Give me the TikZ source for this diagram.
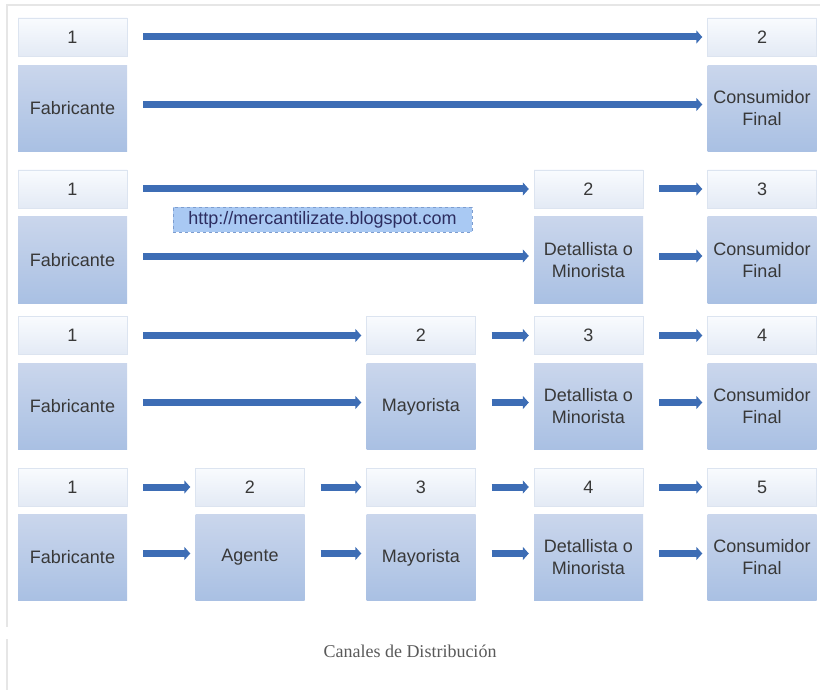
\documentclass[tikz,border=0pt]{standalone}
\usepackage{fontspec}
\setmainfont{Liberation Sans}
\newfontfamily\piefont{Liberation Serif}
\usetikzlibrary{arrows.meta}

\definecolor{azulflecha}{HTML}{3D6DB5}
\definecolor{cajaarriba}{HTML}{CAD6EC}
\definecolor{cajaabajo}{HTML}{A9C0E3}
\definecolor{numarriba}{HTML}{F9FBFE}
\definecolor{numabajo}{HTML}{E3EAF5}
\definecolor{numborde}{HTML}{DCE4F0}
\definecolor{urlfondo}{HTML}{A9C9F3}
\definecolor{urlborde}{HTML}{7D9DCF}
\definecolor{texto}{HTML}{383838}
\definecolor{marco}{HTML}{E6E6E6}

\begin{document}
\begin{tikzpicture}[x=1pt, y=-1pt,
  numero/.style={draw=numborde, top color=numarriba, bottom color=numabajo, minimum width=109pt, minimum height=38pt, inner sep=0pt, text=texto, font=\fontsize{18}{20}\selectfont},
  actor/.style={top color=cajaarriba, bottom color=cajaabajo, minimum width=109pt, minimum height=86pt, inner sep=0pt, align=center, text=texto, font=\fontsize{18}{22}\selectfont},
  flecha/.style={-{Triangle[length=6pt,width=13pt]}, line width=7pt, draw=azulflecha, shorten <=16pt, shorten >=5pt}]
\useasboundingbox (0,0) rectangle (820,690);
\draw[marco, line width=2pt] (7,627) -- (7,5) -- (820,5);
\draw[marco, line width=2pt] (7,639) -- (7,690);
% canal 1
\node[numero] (n11) at (72.5,37) {1};
\node[numero] (n12) at (762,37) {2};
\node[actor] (fab1) at (72.5,108.5) {Fabricante};
\node[actor] (con1) at (762,108.5) {Consumidor\\Final};
\draw[flecha] (n11) -- (n12);
\draw[flecha] ([yshift=4pt]fab1.east) -- ([yshift=4pt]con1.west);
% canal 2
\node[numero] (n21) at (72.5,189) {1};
\node[numero] (n22) at (588.5,189) {2};
\node[numero] (n23) at (762,189) {3};
\node[actor] (fab2) at (72.5,260) {Fabricante};
\node[actor] (det2) at (588.5,260) {Detallista o\\Minorista};
\node[actor] (con2) at (762,260) {Consumidor\\Final};
\node[draw=urlborde, dashed, fill=urlfondo, minimum width=299pt, minimum height=25pt, inner sep=0pt, text=texto!80!blue, font=\fontsize{18}{20}\selectfont] (url) at (322.5,219.5) {http://mercantilizate.blogspot.com};
\draw[flecha] (n21) -- (n22);
\draw[flecha] (n22) -- (n23);
\draw[flecha] ([yshift=4pt]fab2.east) -- ([yshift=4pt]det2.west);
\draw[flecha] ([yshift=4pt]det2.east) -- ([yshift=4pt]con2.west);
% canal 3
\node[numero] (n31) at (72.5,335.5) {1};
\node[numero] (n32) at (421,335.5) {2};
\node[numero] (n33) at (588.5,335.5) {3};
\node[numero] (n34) at (762,335.5) {4};
\node[actor] (fab3) at (72.5,406.5) {Fabricante};
\node[actor] (may3) at (421,406.5) {Mayorista};
\node[actor] (det3) at (588.5,406.5) {Detallista o\\Minorista};
\node[actor] (con3) at (762,406.5) {Consumidor\\Final};
\draw[flecha] (n31) -- (n32);
\draw[flecha] (n32) -- (n33);
\draw[flecha] (n33) -- (n34);
\draw[flecha] ([yshift=4pt]fab3.east) -- ([yshift=4pt]may3.west);
\draw[flecha] ([yshift=4pt]may3.east) -- ([yshift=4pt]det3.west);
\draw[flecha] ([yshift=4pt]det3.east) -- ([yshift=4pt]con3.west);
% canal 4
\node[numero] (n41) at (72.5,487) {1};
\node[numero] (n42) at (250,487) {2};
\node[numero] (n43) at (421,487) {3};
\node[numero] (n44) at (588.5,487) {4};
\node[numero] (n45) at (762,487) {5};
\node[actor] (fab4) at (72.5,557.5) {Fabricante};
\node[actor] (age4) at (250,557.5) {Agente};
\node[actor] (may4) at (421,557.5) {Mayorista};
\node[actor] (det4) at (588.5,557.5) {Detallista o\\Minorista};
\node[actor] (con4) at (762,557.5) {Consumidor\\Final};
\draw[flecha] (n41) -- (n42);
\draw[flecha] (n42) -- (n43);
\draw[flecha] (n43) -- (n44);
\draw[flecha] (n44) -- (n45);
\draw[flecha] ([yshift=4pt]fab4.east) -- ([yshift=4pt]age4.west);
\draw[flecha] ([yshift=4pt]age4.east) -- ([yshift=4pt]may4.west);
\draw[flecha] ([yshift=4pt]may4.east) -- ([yshift=4pt]det4.west);
\draw[flecha] ([yshift=4pt]det4.east) -- ([yshift=4pt]con4.west);
% pie
\node[text=black!65, font=\piefont\fontsize{18}{20}\selectfont] (pie) at (410,651) {Canales de Distribución};
\end{tikzpicture}
\end{document}
